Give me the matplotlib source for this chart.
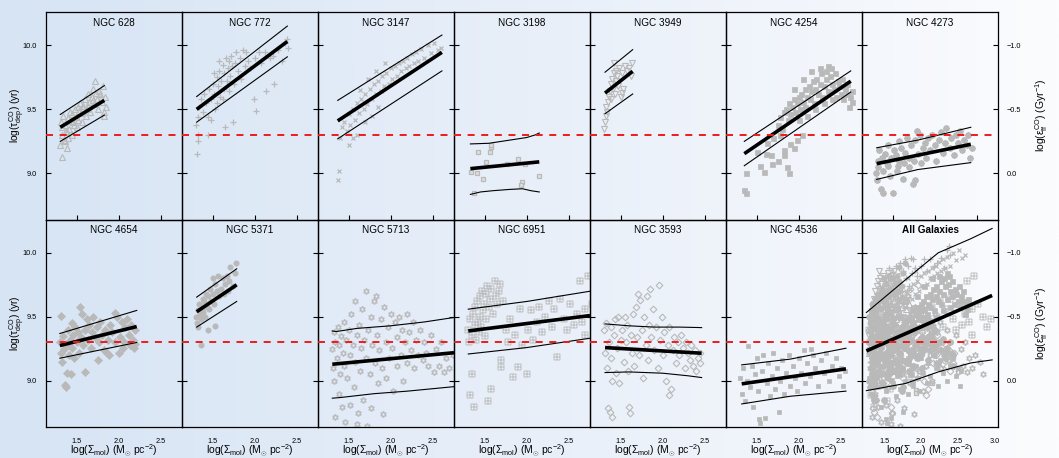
import numpy as np
import matplotlib
matplotlib.use('Agg')
import matplotlib.pyplot as plt
from matplotlib.colors import LinearSegmentedColormap
from matplotlib.ticker import FuncFormatter, FormatStrFormatter

plt.rcParams['font.family'] = ['Liberation Sans', 'DejaVu Sans']
plt.rcParams['mathtext.fontset'] = 'custom'
plt.rcParams['mathtext.rm'] = 'Liberation Sans'
plt.rcParams['mathtext.it'] = 'Liberation Sans'
plt.rcParams['mathtext.bf'] = 'Liberation Sans:bold'

# ---------------- data: (log Sigma_mol, log tau_dep) ----------------
p628 = [(1.30,9.22),(1.31,9.40),(1.32,9.30),(1.33,9.13),(1.34,9.45),(1.35,9.26),(1.36,9.38),(1.37,9.33),(1.38,9.20),(1.40,9.43),
        (1.41,9.35),(1.42,9.48),(1.44,9.30),(1.45,9.46),(1.46,9.40),(1.48,9.50),(1.50,9.36),(1.51,9.52),(1.52,9.42),(1.54,9.55),
        (1.55,9.47),(1.56,9.40),(1.58,9.53),(1.60,9.58),(1.61,9.45),(1.62,9.50),(1.64,9.62),(1.65,9.56),(1.66,9.48),(1.68,9.60),
        (1.70,9.66),(1.71,9.54),(1.72,9.72),(1.74,9.58),(1.75,9.50),(1.76,9.64),(1.78,9.62),(1.80,9.56),(1.81,9.68),(1.82,9.45),
        (1.84,9.60),(1.85,9.52),(1.36,9.25),(1.40,9.28),(1.47,9.38),(1.33,9.36),(1.39,9.32),(1.43,9.41),(1.49,9.44),(1.53,9.49),
        (1.57,9.51),(1.63,9.53),(1.69,9.57),(1.73,9.63),(1.79,9.59),(1.83,9.48)]
p772 = [(1.31,9.15),(1.32,9.25),(1.33,9.30),(1.30,9.38),(1.32,9.44),(1.34,9.52),(1.36,9.58),(1.38,9.48),(1.40,9.62),(1.42,9.55),
        (1.44,9.30),(1.45,9.44),(1.46,9.66),(1.48,9.58),(1.50,9.70),(1.52,9.62),(1.53,9.50),(1.55,9.75),(1.56,9.68),(1.58,9.80),
        (1.59,9.60),(1.60,9.72),(1.62,9.85),(1.63,9.66),(1.64,9.78),(1.65,9.36),(1.66,9.90),(1.67,9.72),(1.68,9.82),(1.70,9.88),
        (1.71,9.76),(1.72,9.92),(1.73,9.84),(1.74,9.40),(1.75,9.70),(1.76,9.86),(1.78,9.95),(1.80,9.80),(1.82,9.90),(1.84,9.74),
        (1.86,9.96),(1.88,9.84),(1.90,9.95),(1.92,9.88),(1.95,9.82),(1.99,9.58),(2.00,9.90),(2.02,9.49),(2.05,9.95),(2.08,9.86),
        (2.12,9.95),(2.14,9.64),(2.18,9.90),(2.22,9.92),(2.23,9.70),(2.28,9.96),(2.32,9.88),(2.36,10.02),(2.38,10.05),(2.40,9.98),
        (1.48,9.42),(1.55,9.55),(1.62,9.58),(1.69,9.64),(1.57,9.88),(1.52,9.78)]
p3147 = [(1.37,8.95),(1.39,9.02),(1.40,9.28),(1.42,9.36),(1.45,9.40),(1.48,9.33),(1.50,9.46),(1.52,9.38),(1.55,9.50),(1.58,9.42),
         (1.60,9.55),(1.62,9.47),(1.65,9.58),(1.68,9.50),(1.70,9.62),(1.72,9.54),(1.75,9.66),(1.78,9.58),(1.80,9.70),(1.82,9.62),
         (1.85,9.72),(1.88,9.64),(1.90,9.76),(1.92,9.68),(1.95,9.78),(1.98,9.70),(2.00,9.82),(2.02,9.74),(2.05,9.84),(2.08,9.76),
         (2.10,9.86),(2.12,9.80),(2.15,9.88),(2.18,9.82),(2.20,9.90),(2.22,9.84),(2.25,9.93),(2.28,9.86),(2.30,9.95),(2.33,9.88),
         (2.36,9.97),(2.40,9.90),(2.44,10.00),(2.48,9.94),(2.52,10.02),(2.56,9.96),(2.60,9.98),(1.60,9.30),(1.70,9.40),(1.78,9.45),
         (1.85,9.52),(1.63,9.65),(1.73,9.74),(1.83,9.80),(1.93,9.86),(1.50,9.22),(1.55,9.28)]
p3198 = [(1.42,9.167),(1.56,9.167),(1.57,9.205),(1.58,9.22),(1.515,9.09),(1.34,9.008),(1.41,9.0),(1.48,8.96),(1.76,9.076),(1.90,9.115),
         (1.98,9.076),(2.15,8.98),(1.94,8.93),(1.93,8.906),(1.37,8.85)]
p3949 = [(1.30,9.35),(1.31,9.40),(1.32,9.45),(1.33,9.52),(1.34,9.48),(1.35,9.56),(1.36,9.60),(1.37,9.64),(1.38,9.70),(1.39,9.58),
         (1.40,9.74),(1.41,9.66),(1.42,9.78),(1.43,9.62),(1.44,9.80),(1.45,9.72),(1.46,9.76),(1.47,9.68),(1.48,9.82),(1.50,9.60),
         (1.52,9.78),(1.53,9.66),(1.55,9.84),(1.57,9.80),(1.60,9.82),(1.62,9.76),(1.64,9.86),(1.425,9.86),(1.52,9.63)]
p4254 = [(1.35,8.87),(1.37,8.85),(1.37,9.00),(1.50,9.17),(1.54,9.06),(1.59,9.01),(1.61,9.15),(1.67,9.14),(1.68,9.07),(1.75,9.10),
         (1.82,9.14),(1.83,9.18),(1.86,9.05),(1.88,9.00),(1.90,9.23),(1.94,9.20),(1.98,9.26),(2.04,9.30),(1.62,9.24),(1.70,9.28),
         (1.78,9.30),(1.75,9.38),(1.78,9.44),(1.80,9.35),(1.82,9.48),(1.85,9.50),(1.87,9.42),(1.88,9.55),(1.90,9.46),(1.92,9.52),
         (1.94,9.58),(1.96,9.48),(1.98,9.55),(2.00,9.60),(2.02,9.50),(2.03,9.62),(2.05,9.56),(2.07,9.66),(2.08,9.52),(2.10,9.60),
         (2.12,9.68),(2.13,9.58),(2.15,9.64),(2.17,9.72),(2.18,9.55),(2.20,9.66),(2.21,9.74),(2.23,9.62),(2.25,9.70),(2.27,9.78),
         (2.28,9.60),(2.30,9.68),(2.32,9.80),(2.33,9.74),(2.35,9.64),(2.37,9.76),(2.38,9.82),(2.40,9.70),(2.42,9.66),(2.43,9.78),
         (2.45,9.60),(2.47,9.72),(2.48,9.68),(2.50,9.62),(2.52,9.74),(2.53,9.58),(2.55,9.66),(2.57,9.62),(2.58,9.70),(2.60,9.52),
         (2.61,9.60),(2.63,9.56),(2.64,9.64),(2.10,9.45),(2.20,9.50),(2.30,9.55),(2.40,9.58),(2.00,9.42),(2.15,9.80),(2.25,9.82),
         (2.35,9.84),(2.05,9.74),(1.95,9.66)]
p4273 = [(1.30,9.00),(1.31,8.95),(1.32,9.10),(1.33,9.05),(1.34,9.18),(1.36,8.88),(1.37,9.12),(1.38,9.02),(1.39,8.85),(1.41,9.15),
         (1.43,9.08),(1.45,9.22),(1.47,8.98),(1.48,9.12),(1.50,8.85),(1.52,9.18),(1.54,9.14),(1.55,9.02),(1.57,9.25),(1.58,9.10),
         (1.60,9.20),(1.62,8.96),(1.64,9.08),(1.65,9.16),(1.67,9.28),(1.69,9.12),(1.70,9.05),(1.72,9.22),(1.74,8.92),(1.75,9.10),
         (1.77,9.26),(1.79,9.33),(1.80,9.15),(1.82,9.30),(1.84,9.08),(1.86,9.20),(1.88,9.24),(1.90,9.12),(1.92,9.28),(1.95,9.18),
         (1.97,9.30),(2.00,9.22),(2.02,9.10),(2.05,9.26),(2.08,9.32),(2.10,9.16),(2.12,9.24),(2.135,9.357),(2.18,9.20),(2.20,9.28),
         (2.23,9.14),(2.25,9.30),(2.28,9.24),(2.30,9.33),(2.33,9.18),(2.35,9.26),(2.38,9.22),(2.40,9.30),(2.42,9.12),(2.44,9.20),
         (1.76,8.95),(1.44,9.06),(1.56,9.06)]
p4654 = [(1.30,9.30),(1.31,9.22),(1.31,9.51),(1.33,9.15),(1.34,9.35),(1.35,9.25),(1.36,8.97),(1.37,8.95),(1.38,9.28),(1.39,9.06),
         (1.40,9.40),(1.41,9.20),(1.42,9.32),(1.43,9.05),(1.44,9.45),(1.45,9.26),(1.46,9.36),(1.47,9.18),(1.48,9.42),(1.50,9.30),
         (1.52,9.38),(1.53,9.22),(1.54,9.58),(1.55,9.34),(1.56,9.52),(1.58,9.28),(1.60,9.40),(1.60,9.07),(1.62,9.48),(1.64,9.32),
         (1.65,9.44),(1.67,9.26),(1.68,9.38),(1.70,9.50),(1.72,9.34),(1.74,9.42),(1.75,9.16),(1.77,9.30),(1.78,9.46),(1.80,9.36),
         (1.82,9.24),(1.84,9.40),(1.86,9.22),(1.87,9.32),(1.88,9.20),(1.90,9.44),(1.92,9.38),(1.955,9.53),(1.96,9.30),(1.98,9.50),
         (2.00,9.22),(2.02,9.34),(2.04,9.46),(2.05,9.26),(2.06,9.30),(2.08,9.42),(2.10,9.48),(2.12,9.36),(2.14,9.28),(2.15,9.44),
         (2.17,9.32),(2.18,9.26),(2.19,9.40),(2.20,9.29)]
p5371 = [(1.30,9.50),(1.31,9.45),(1.32,9.55),(1.33,9.42),(1.357,9.28),(1.34,9.60),(1.35,9.52),(1.36,9.48),(1.37,9.58),(1.38,9.64),
         (1.39,9.54),(1.40,9.62),(1.41,9.50),(1.42,9.68),(1.43,9.58),(1.45,9.66),(1.46,9.56),(1.47,9.72),(1.48,9.62),(1.50,9.68),
         (1.52,9.60),(1.53,9.76),(1.55,9.70),(1.57,9.66),(1.567,9.815),(1.60,9.72),(1.62,9.80),(1.63,9.68),(1.65,9.76),(1.67,9.82),
         (1.68,9.70),(1.70,9.78),(1.71,9.89),(1.74,9.74),(1.76,9.84),(1.78,9.92),(1.53,9.43),(1.44,9.40),(1.50,9.80)]
p5713 = [(1.30,9.25),(1.31,9.10),(1.32,9.38),(1.33,9.00),(1.34,9.30),(1.335,8.72),(1.36,9.18),(1.37,9.42),(1.38,8.90),(1.39,9.28),
         (1.40,9.05),(1.41,9.35),(1.42,8.80),(1.43,9.22),(1.44,9.46),(1.45,9.12),(1.46,8.68),(1.47,9.32),(1.48,9.02),(1.50,9.40),
         (1.51,9.20),(1.52,8.81),(1.53,9.52),(1.55,9.28),(1.56,8.95),(1.57,9.62),(1.58,9.15),(1.60,9.36),(1.61,8.75),(1.62,9.44),
         (1.63,9.08),(1.65,9.26),(1.66,9.56),(1.67,8.85),(1.68,9.32),(1.706,9.70),(1.71,9.18),(1.72,8.65),(1.73,9.40),(1.75,9.05),
         (1.76,9.50),(1.77,8.79),(1.78,9.28),(1.80,9.62),(1.81,9.14),(1.83,9.66),(1.84,9.36),(1.85,8.98),(1.86,9.24),(1.88,9.48),
         (1.90,9.10),(1.91,8.74),(1.92,9.58),(1.94,9.30),(1.95,9.02),(1.97,9.42),(1.98,9.18),(2.00,9.52),(2.02,9.26),(2.03,8.92),
         (2.05,9.46),(2.07,9.12),(2.08,9.34),(2.10,9.50),(2.12,9.20),(2.14,9.40),(2.15,9.00),(2.17,9.30),(2.19,9.52),(2.20,9.14),
         (2.22,9.38),(2.24,9.24),(2.26,9.46),(2.28,9.10),(2.30,9.32),(2.32,9.20),(2.35,9.40),(2.38,9.16),(2.40,9.30),(2.42,9.22),
         (2.45,9.12),(2.48,9.36),(2.51,9.07),(2.54,9.25),(2.57,9.12),(2.60,9.30),(2.63,9.07),(2.66,9.18),(2.70,9.10),(2.74,9.20),
         (2.80,9.15),(2.85,9.05),(1.55,8.62),(1.60,8.66),(1.34,8.62)]
p6951 = [(1.30,9.40),(1.31,9.30),(1.32,8.89),(1.33,9.48),(1.345,9.05),(1.35,9.36),(1.36,9.52),(1.37,8.80),(1.38,9.44),(1.39,9.58),
         (1.40,9.32),(1.41,9.62),(1.42,9.46),(1.43,9.38),(1.44,9.66),(1.45,9.50),(1.46,9.42),(1.47,9.70),(1.48,9.55),(1.49,9.60),
         (1.50,9.35),(1.51,9.68),(1.52,9.48),(1.53,9.74),(1.54,8.84),(1.55,9.58),(1.56,9.64),(1.58,8.94),(1.58,9.72),(1.60,9.52),
         (1.62,9.78),(1.63,9.66),(1.65,9.60),(1.67,9.70),(1.683,9.76),(1.70,9.11),(1.70,9.16),(1.72,9.62),(1.75,9.40),(1.78,9.30),
         (1.80,9.48),(1.84,9.03),(1.86,9.36),(1.90,9.11),(1.92,9.56),(1.95,9.28),(2.00,9.05),(2.02,9.40),(2.05,9.55),(2.08,9.32),
         (2.12,9.46),(2.15,9.58),(2.18,9.38),(2.22,9.50),(2.26,9.62),(2.30,9.42),(2.33,9.56),(2.36,9.19),(2.40,9.64),(2.44,9.48),
         (2.48,9.40),(2.52,9.60),(2.56,9.44),(2.60,9.52),(2.63,9.78),(2.66,9.46),(2.70,9.56),(2.73,9.815),(2.78,9.60),(2.85,9.50),
         (2.90,9.42),(2.96,9.48),(2.70,9.36)]
p3593 = [(1.30,9.40),(1.31,9.22),(1.33,9.45),(1.34,9.10),(1.35,8.79),(1.36,9.30),(1.37,8.76),(1.38,9.42),(1.39,9.18),(1.40,8.72),
         (1.40,9.00),(1.42,9.36),(1.43,9.48),(1.44,9.06),(1.46,9.26),(1.47,9.50),(1.48,8.98),(1.50,9.32),(1.52,9.40),(1.54,9.15),
         (1.55,9.50),(1.56,9.30),(1.58,9.44),(1.59,9.08),(1.60,8.80),(1.61,8.75),(1.62,9.36),(1.63,9.22),(1.65,9.52),(1.66,9.12),
         (1.68,9.58),(1.70,9.34),(1.71,9.68),(1.72,9.20),(1.73,9.63),(1.75,9.40),(1.76,9.02),(1.78,9.50),(1.80,9.28),(1.81,9.66),
         (1.82,9.16),(1.84,9.44),(1.85,9.72),(1.86,9.34),(1.88,9.56),(1.90,9.24),(1.92,9.42),(1.94,9.10),(1.96,9.745),(1.97,9.32),
         (1.99,9.50),(2.00,9.20),(2.02,9.38),(2.04,9.00),(2.06,9.28),(2.07,8.89),(2.08,9.42),(2.10,8.94),(2.12,9.24),(2.14,9.34),
         (2.16,9.14),(2.18,9.30),(2.20,9.20),(2.22,9.36),(2.24,9.26),(2.26,9.10),(2.28,9.30),(2.30,9.22),(2.32,9.16),(2.34,9.28),
         (2.36,9.12),(2.38,9.24),(2.40,9.08),(2.42,9.18),(2.44,9.14),(2.45,9.22)]
p4536 = [(1.30,9.02),(1.32,8.90),(1.34,9.10),(1.36,8.84),(1.38,9.00),(1.40,9.27),(1.42,8.95),(1.44,9.12),(1.46,8.80),(1.48,9.05),
         (1.50,9.18),(1.52,8.92),(1.53,8.70),(1.54,8.67),(1.56,9.08),(1.58,9.20),(1.60,8.71),(1.62,8.98),(1.64,9.14),(1.66,8.88),
         (1.68,9.04),(1.70,9.22),(1.72,8.94),(1.74,9.10),(1.76,8.76),(1.78,9.00),(1.80,9.16),(1.82,8.90),(1.85,9.06),(1.88,9.20),
         (1.90,8.96),(1.93,9.12),(1.96,9.02),(1.98,8.92),(2.00,9.18),(2.03,9.06),(2.06,9.24),(2.08,8.98),(2.10,9.14),(2.13,9.04),
         (2.15,9.25),(2.17,9.20),(2.20,9.10),(2.23,8.96),(2.26,9.16),(2.30,9.06),(2.33,9.22),(2.36,9.00),(2.40,9.12),(2.44,9.18),
         (2.48,9.04),(2.50,9.10),(2.53,8.96),(2.55,9.08)]

# fit lines: best fit (thick) and scatter envelope (thin)
fit628  = dict(x=[1.305, 1.829], y=[9.36, 9.57],  hx=[1.305, 1.829], hy=[9.46, 9.685], lx=[1.305, 1.829], ly=[9.25, 9.455])
fit772  = dict(x=[1.31, 2.389],  y=[9.50, 10.03], hx=[1.31, 2.389],  hy=[9.60, 10.15], lx=[1.31, 2.389],  ly=[9.40, 9.91])
fit3147 = dict(x=[1.37, 2.61],   y=[9.41, 9.945], hx=[1.37, 2.61],   hy=[9.57, 10.08], lx=[1.37, 2.61],   ly=[9.27, 9.80])
fit3198 = dict(x=[1.33, 2.15],   y=[9.037, 9.09],
               hx=[1.33, 1.55, 1.80, 2.00, 2.10, 2.15], hy=[9.23, 9.235, 9.26, 9.28, 9.30, 9.315],
               lx=[1.33, 1.45, 1.60, 1.80, 1.95, 2.05, 2.15], ly=[8.836, 8.855, 8.865, 8.875, 8.88, 8.865, 8.855])
fit3949 = dict(x=[1.314, 1.643], y=[9.627, 9.797], hx=[1.314, 1.643], hy=[9.79, 9.966], lx=[1.314, 1.643], ly=[9.466, 9.62])
fit4254 = dict(x=[1.353, 2.62],  y=[9.154, 9.72], hx=[1.353, 2.62],  hy=[9.25, 9.80],  lx=[1.353, 2.62],  ly=[9.06, 9.635])
fit4273 = dict(x=[1.31, 2.43],   y=[9.076, 9.227], hx=[1.31, 1.8, 2.43], hy=[9.20, 9.26, 9.36], lx=[1.31, 1.8, 2.43], ly=[8.953, 9.03, 9.084])
fit4654 = dict(x=[1.30, 2.215],  y=[9.276, 9.424], hx=[1.30, 2.215], hy=[9.37, 9.55],  lx=[1.30, 2.215], ly=[9.177, 9.30])
fit5371 = dict(x=[1.31, 1.786],  y=[9.54, 9.75],  hx=[1.31, 1.786], hy=[9.654, 9.875], lx=[1.31, 1.786], ly=[9.42, 9.62])
fit5713 = dict(x=[1.305, 2.754], y=[9.13, 9.22],
               hx=[1.305, 1.35, 1.6, 2.0, 2.4, 2.754], hy=[9.39, 9.385, 9.41, 9.43, 9.46, 9.495],
               lx=[1.305, 1.4, 1.8, 2.2, 2.754], ly=[8.865, 8.87, 8.90, 8.92, 8.955])
fit6951 = dict(x=[1.305, 2.754], y=[9.39, 9.51],  hx=[1.305, 2.0, 2.754], hy=[9.56, 9.62, 9.70], lx=[1.305, 2.0, 2.754], ly=[9.21, 9.26, 9.333])
fit3593 = dict(x=[1.314, 2.464], y=[9.26, 9.216],
               hx=[1.314, 1.6, 1.9, 2.2, 2.464], hy=[9.445, 9.43, 9.42, 9.42, 9.416],
               lx=[1.314, 1.6, 2.0, 2.3, 2.464], ly=[9.065, 9.07, 9.06, 9.04, 9.026])
fit4536 = dict(x=[1.322, 2.563], y=[8.977, 9.094], hx=[1.322, 1.9, 2.563], hy=[9.125, 9.17, 9.255], lx=[1.322, 1.9, 2.563], ly=[8.82, 8.88, 8.92])
fitall  = dict(x=[1.26, 2.97],   y=[9.234, 9.667],
               hx=[1.26, 1.793, 2.237, 2.68, 2.97], hy=[9.534, 9.79, 10.0, 10.11, 10.19],
               lx=[1.26, 1.793, 2.237, 2.68, 2.97], ly=[8.924, 8.98, 9.07, 9.14, 9.164])

names = ['NGC 628', 'NGC 772', 'NGC 3147', 'NGC 3198', 'NGC 3949', 'NGC 4254', 'NGC 4273',
         'NGC 4654', 'NGC 5371', 'NGC 5713', 'NGC 6951', 'NGC 3593', 'NGC 4536', 'All Galaxies']
data = [p628, p772, p3147, p3198, p3949, p4254, p4273, p4654, p5371, p5713, p6951, p3593, p4536]
fits = [fit628, fit772, fit3147, fit3198, fit3949, fit4254, fit4273, fit4654, fit5371, fit5713, fit6951, fit3593, fit4536, fitall]
sf_threshold = 9.3
ytick_vals = [9.0, 9.5, 10.0]

GREY = '#b9b9b9'
styles = [
    dict(marker='^', ms=3.8, mfc='none', mec=GREY, mew=0.8),
    dict(marker='+', ms=4.5, mfc='none', mec=GREY, mew=0.9),
    dict(marker='x', ms=3.5, mfc='none', mec=GREY, mew=0.9),
    dict(marker='s', ms=3.2, mfc='#dedede', mec=GREY, mew=0.9),
    dict(marker='v', ms=3.8, mfc='none', mec=GREY, mew=0.8),
    dict(marker='s', ms=3.6, mfc=GREY, mec=GREY, mew=0.5),
    dict(marker=(8, 2, 0), ms=4.5, mfc=GREY, mec=GREY, mew=1.3),
    dict(marker='D', ms=3.6, mfc=GREY, mec=GREY, mew=0.5),
    dict(marker='o', ms=3.8, mfc=GREY, mec=GREY, mew=0.5),
    dict(marker=(6, 1, 0), ms=4.5, mfc='none', mec=GREY, mew=0.9),
    dict(marker='$\\boxplus$', ms=4.5, mfc=GREY, mec=GREY, mew=0.3),
    dict(marker='D', ms=3.4, mfc='none', mec=GREY, mew=0.8),
    dict(marker='s', ms=3.0, mfc=GREY, mec=GREY, mew=0.5),
]

W_FIG, H_FIG = 1059, 458
fig = plt.figure(figsize=(W_FIG / 100, H_FIG / 100), dpi=100)

bg = fig.add_axes([0, 0, 1, 1], zorder=-10)
cmap = LinearSegmentedColormap.from_list('bg', ['#d6e4f4', '#e8eff9', '#fbfcfe'])
bg.imshow(np.linspace(0, 1, 512)[None, :], aspect='auto', cmap=cmap, extent=[0, 1, 0, 1])
bg.axis('off')

left0 = 46 / W_FIG
pw = 136 / W_FIG
ph = 207.5 / H_FIG
bottoms = [1 - 219.5 / H_FIG, 1 - 427 / H_FIG]

def eps_fmt(v, pos):
    e = 9.0 - v
    s = f'{abs(e):.1f}'
    return ('\u2212' + s) if e < -1e-9 else s

for i, name in enumerate(names):
    r, c = divmod(i, 7)
    ax = fig.add_axes([left0 + c * pw, bottoms[r], pw, ph])
    ax.patch.set_alpha(0)
    last = (i == 13)
    if last:
        ax.set_xlim(1.2, 3.05)
        ax.set_xticks([1.5, 2.0, 2.5, 3.0])
        for d, st in zip(data, styles):
            a = np.array(d)
            ax.plot(a[:, 0], a[:, 1], ls='none', zorder=2, **st)
    else:
        ax.set_xlim(1.135, 2.754)
        ax.set_xticks([1.5, 2.0, 2.5])
        a = np.array(data[i])
        ax.plot(a[:, 0], a[:, 1], ls='none', zorder=2, **styles[i])
    ax.set_ylim(8.64, 10.26)
    ax.set_yticks(ytick_vals)
    f = fits[i]
    ax.plot(f['hx'], f['hy'], color='black', lw=0.8, zorder=3)
    ax.plot(f['lx'], f['ly'], color='black', lw=0.8, zorder=3)
    ax.plot(f['x'], f['y'], color='black', lw=2.6, zorder=4, solid_capstyle='butt')
    ax.axhline(sf_threshold, color='#ee1c1c', lw=1.4, ls=(0, (3.6, 3.4)), zorder=5)

    for sp in ax.spines.values():
        sp.set_linewidth(0.9)
    ax.tick_params(axis='y', direction='in', length=3.5, width=0.8, left=True, right=True,
                   labelleft=(c == 0), labelright=last, labelsize=5.3, pad=6.5)
    ax.tick_params(axis='x', direction='in', length=3.5, width=0.8, bottom=(r == 0), top=False,
                   labelbottom=(r == 1), labelsize=5.3, pad=8)
    ax.yaxis.set_major_formatter(FormatStrFormatter('%.1f'))
    if c == 6:
        ax.tick_params(axis='y', labelright=True)
        ax.yaxis.set_major_formatter(FuncFormatter(eps_fmt))
    ax.xaxis.set_major_formatter(FormatStrFormatter('%.1f'))

    ax.text(0.5, 1 - 10.5 / 207.5, name, transform=ax.transAxes, ha='center', va='center',
            fontsize=7.2, fontweight='bold' if last else 'normal')
    if r == 1:
        ax.text(0.5, -(451 - 427) / 207.5, r'log($\Sigma_{\rm mol}$) (M$_{\odot}$ pc$^{-2}$)',
                transform=ax.transAxes, ha='center', va='center', fontsize=7.5)

for r, yc in enumerate([115.5, 323.0]):
    fig.text(17.5 / W_FIG, 1 - yc / H_FIG, r'log($\tau^{\rm CO}_{\rm dep}$) (yr)', rotation=90,
             ha='center', va='center', fontsize=7.3)
    fig.text(1041.5 / W_FIG, 1 - yc / H_FIG, r'log($\varepsilon^{\rm CO}_{\rm ff}$) (Gyr$^{-1}$)', rotation=90,
             ha='center', va='center', fontsize=7.5)

fig.savefig('out.png', dpi=100)
